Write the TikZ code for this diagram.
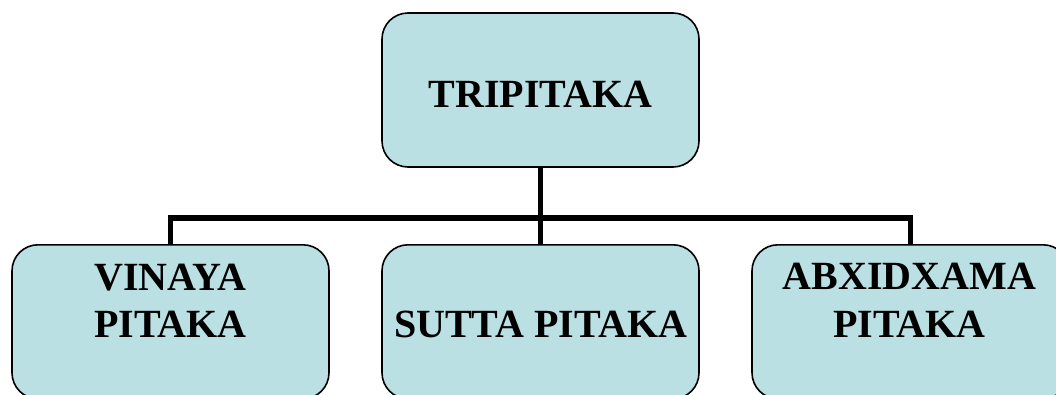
\documentclass[tikz,border=0pt]{standalone}
\usepackage{fontspec}
\setmainfont{Liberation Serif}
\definecolor{boxfill}{HTML}{BBE0E3}
\tikzset{
  box/.style={draw=black, line width=1.6pt, fill=boxfill, rounded corners=26pt,
    minimum width=317pt, inner sep=0pt},
  topbox/.style={box, minimum height=154pt},
  lowbox/.style={box, minimum height=154pt},
  lbl/.style={font=\fontsize{40}{47}\selectfont\bfseries, inner sep=0pt, anchor=base},
  conn/.style={line width=5.4pt, draw=black}
}
\begin{document}
\begin{tikzpicture}[x=1pt,y=-1pt]
\useasboundingbox (0,0) rectangle (1056,394);
\node[topbox] (top) at (540.5,90) {};
\node[lowbox, anchor=north] (left) at (170.5,244) {};
\node[lowbox, anchor=north] (mid) at (540.5,244) {};
\node[lowbox, anchor=north] (right) at (910.5,244) {};
\coordinate (bl) at (170.5,218);
\coordinate (bm) at (540.5,218);
\coordinate (br) at (910.5,218);
\draw[conn] (top.south) -- (bm) -- (mid.north);
\draw[conn, line join=miter] (left.north) -- (bl) -- (br) -- (right.north);
\node[lbl] (ttop) at (540.5,107) {TRIPITAKA};
\node[lbl] (tl1) at (170.5,290) {VINAYA};
\node[lbl] (tl2) at (170.5,337) {PITAKA};
\node[lbl] (tm) at (540.5,337) {SUTTA PITAKA};
\node[lbl] (tr1) at (909.5,289) {ABXIDXAMA};
\node[lbl] (tr2) at (909.5,337) {PITAKA};
\end{tikzpicture}
\end{document}
